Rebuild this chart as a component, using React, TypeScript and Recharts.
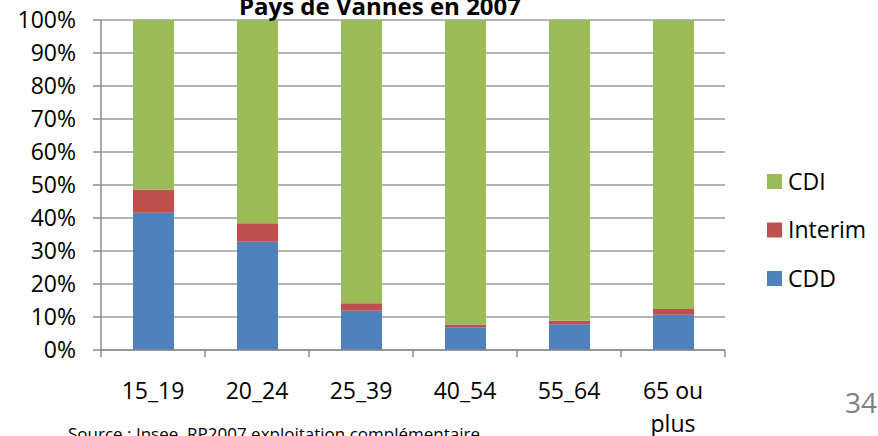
import React from 'react';
import { BarChart, Bar, XAxis, YAxis, CartesianGrid } from 'recharts';

const categories = ['15_19', '20_24', '25_39', '40_54', '55_64', '65 ou plus'];
const cdd = [41.6, 32.8, 11.9, 6.9, 7.8, 10.7];
const interim = [7.0, 5.6, 2.3, 0.8, 1.1, 1.7];
const cdi = [51.4, 61.6, 85.8, 92.3, 91.1, 87.6];
const yTicks = [0, 10, 20, 30, 40, 50, 60, 70, 80, 90, 100];
const legendItems = ['CDI', 'Interim', 'CDD'] as const;

const data = categories.map((c, i) => ({ name: c, CDD: cdd[i], Interim: interim[i], CDI: cdi[i] }));

const W = 878;
const H = 436;
const X_H = 86;
const MARGIN = { top: 20, right: 153, bottom: 0, left: 0 };
const Y_W = 101;
const PLOT_W = W - MARGIN.right - MARGIN.left - Y_W;
const HALF_BAND = PLOT_W / categories.length / 2;
const FONT = "'Open Sans', sans-serif";

const COLORS = { CDI: '#9BBB59', Interim: '#C0504D', CDD: '#4F81BD' };
const AXIS = '#8c8c8c';

const XTick = (props: any) => {
  const { x, y, payload, index } = props;
  const words = String(payload.value).split(' ');
  const lines: string[] = words.length > 2 ? [words.slice(0, 2).join(' '), words.slice(2).join(' ')] : [payload.value];
  const isLast = index === categories.length - 1;
  return (
    <g>
      <line x1={x - HALF_BAND} x2={x - HALF_BAND} y1={y} y2={y + 7} stroke={AXIS} strokeWidth={1.5} />
      {isLast && <line x1={x + HALF_BAND} x2={x + HALF_BAND} y1={y} y2={y + 7} stroke={AXIS} strokeWidth={1.5} />}
      {lines.map((l, i) => (
        <text key={i} x={x} y={y + 49 + i * 33} textAnchor="middle" fontSize={23} fontFamily={FONT} fill="#000">
          {l}
        </text>
      ))}
    </g>
  );
};

export default function App() {
  return (
    <div style={{ position: 'absolute', left: 0, top: 0, width: W, height: H, overflow: 'hidden', background: '#fff', fontFamily: FONT }}>
      <BarChart width={W} height={H} data={data} margin={MARGIN} barCategoryGap={0}>
        <CartesianGrid vertical={false} stroke="#9a9a9a" strokeWidth={1.5} />
        <XAxis
          dataKey="name"
          height={X_H}
          axisLine={{ stroke: AXIS, strokeWidth: 1.5 }}
          tickLine={false}
          tickSize={0}
          tickMargin={0}
          interval={0}
          tick={<XTick />}
        />
        <YAxis
          width={Y_W}
          domain={[0, 100]}
          ticks={yTicks}
          interval={0}
          tickFormatter={(v: number) => `${v}%`}
          axisLine={{ stroke: AXIS, strokeWidth: 1.5 }}
          tickLine={{ stroke: AXIS, strokeWidth: 1.5 }}
          tickSize={8}
          tickMargin={17}
          tick={{ fontSize: 23, fontFamily: FONT, fill: '#000' }}
        />
        <Bar dataKey="CDD" stackId="a" fill={COLORS.CDD} barSize={41} isAnimationActive={false} />
        <Bar dataKey="Interim" stackId="a" fill={COLORS.Interim} barSize={41} isAnimationActive={false} />
        <Bar dataKey="CDI" stackId="a" fill={COLORS.CDI} barSize={41} isAnimationActive={false} />
      </BarChart>
      <svg width={W} height={H} style={{ position: 'absolute', left: 0, top: 0, pointerEvents: 'none' }}>
        <text x={380} y={15} textAnchor="middle" fontSize={24} fontWeight="bold" fontFamily={FONT} fill="#000">
          Pays de Vannes en 2007
        </text>
        {legendItems.map((k, i) => (
          <g key={k}>
            <rect x={767} y={174 + i * 48.5} width={15} height={15} fill={COLORS[k]} />
            <text x={788} y={189.5 + i * 48.5} fontSize={23} fontFamily={FONT} fill="#000">
              {k}
            </text>
          </g>
        ))}
        <text x={68} y={440} fontSize={17} fontFamily={FONT} fill="#000">
          Source : Insee, RP2007 exploitation complémentaire
        </text>
        <text x={877} y={413} textAnchor="end" fontSize={28} fontFamily={FONT} fill="#7f7f7f">
          34
        </text>
      </svg>
    </div>
  );
}
